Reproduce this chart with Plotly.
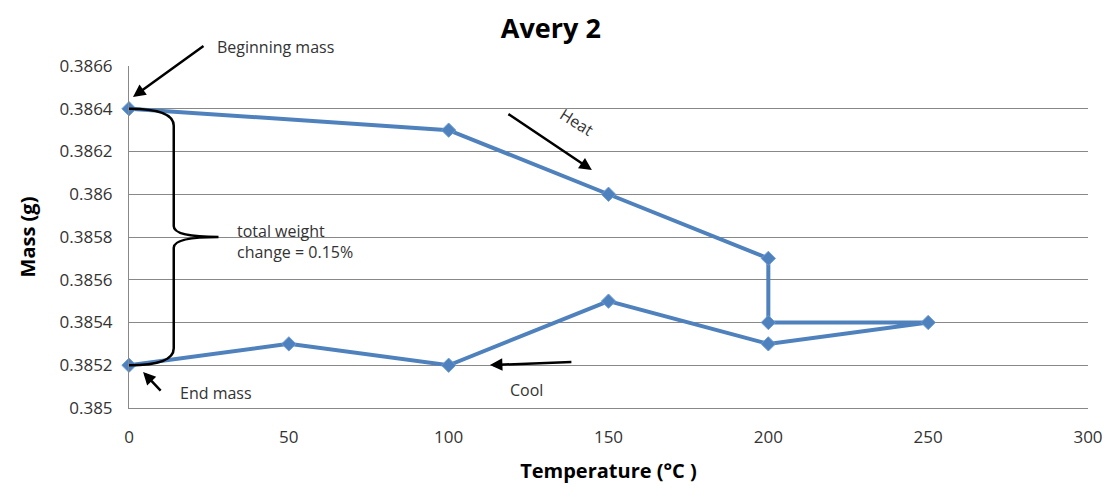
import plotly.graph_objects as go

temperature = [0, 100, 150, 200, 200, 250, 200, 150, 100, 50, 0]
mass = [0.3864, 0.3863, 0.3860, 0.3857, 0.3854, 0.3854, 0.3853, 0.3855, 0.3852, 0.3853, 0.3852]

y_ticks = [0.3850, 0.3852, 0.3854, 0.3856, 0.3858, 0.3860, 0.3862, 0.3864, 0.3866]
y_ticktext = ["0.385", "0.3852", "0.3854", "0.3856", "0.3858", "0.386", "0.3862", "0.3864", "0.3866"]
x_ticks = [0, 50, 100, 150, 200, 250, 300]

FONT = "Open Sans"
BLUE = "#4F81BD"

fig = go.Figure()
fig.add_trace(go.Scatter(
    x=temperature, y=mass, mode="lines+markers",
    line=dict(color=BLUE, width=4),
    marker=dict(symbol="diamond", size=11, color=BLUE, line=dict(color="#6A9BD8", width=1)),
    showlegend=False, cliponaxis=False,
))

# Curly brace from beginning to end mass
brace = ("M 0,0.3864 Q 14,0.3864 14,0.38632 L 14,0.38585 Q 14,0.3858 28,0.3858 "
         "Q 14,0.3858 14,0.38575 L 14,0.38528 Q 14,0.3852 0,0.3852")
fig.add_shape(type="path", path=brace, xref="x", yref="y",
              line=dict(color="black", width=2.5))

ann_font = dict(family=FONT, size=16, color="#333333")
arrow = dict(showarrow=True, arrowhead=2, arrowsize=1, arrowwidth=2.5, arrowcolor="black",
             xref="x", yref="y", text="")

fig.add_annotation(x=1.25, y=0.386455, ax=72, ay=-52, **arrow)
fig.add_annotation(x=27, xref="x", y=1.0556, yref="paper", text="Beginning mass",
                   showarrow=False, xanchor="left", yanchor="middle", font=ann_font)
fig.add_annotation(x=144.8, y=0.386113, ax=-85, ay=-57, **arrow)
fig.add_annotation(x=140, y=0.386338, text="Heat", showarrow=False, textangle=32,
                   font=ann_font)
fig.add_annotation(x=112.9, y=0.385201, ax=83, ay=-3, **arrow)
fig.add_annotation(x=124.5, y=0.385084, text="Cool", showarrow=False, font=ann_font)
fig.add_annotation(x=4.4, y=0.385168, ax=19, ay=20, **arrow)
fig.add_annotation(x=15.3, y=0.38507, text="End mass", showarrow=False,
                   xanchor="left", yanchor="middle", font=ann_font)
fig.add_annotation(x=33.2, y=0.38578, text="total weight<br>change = 0.15%", showarrow=False,
                   xanchor="left", yanchor="middle", align="left", font=ann_font)

fig.update_layout(
    width=1117, height=497,
    margin=dict(l=121, r=37, t=58, b=97),
    paper_bgcolor="white", plot_bgcolor="white",
    title=dict(text="<b>Avery 2</b>", x=0.486, xanchor="center", y=0.958, yanchor="middle",
               font=dict(family=FONT, size=27, color="black")),
    xaxis=dict(range=[0, 300], tickvals=x_ticks, showgrid=False, zeroline=False,
               showline=True, linecolor="#888888", linewidth=1,
               ticks="", ticklabelstandoff=14, tickfont=dict(family=FONT, size=17, color="#333333"),
               title=dict(text="<b>Temperature (°C )</b>", standoff=16,
                          font=dict(family=FONT, size=20, color="black"))),
    yaxis=dict(range=[0.3850, 0.3866], tickvals=y_ticks, ticktext=y_ticktext,
               showgrid=True, gridcolor="#888888", gridwidth=1, zeroline=False,
               showline=True, linecolor="#888888", linewidth=1, mirror=False,
               ticks="", ticklabelstandoff=12, tickfont=dict(family=FONT, size=17, color="#333333"),
               title=dict(text="<b>Mass (g)</b>", standoff=18,
                          font=dict(family=FONT, size=20, color="black"))),
)

fig.write_html("out.html")
